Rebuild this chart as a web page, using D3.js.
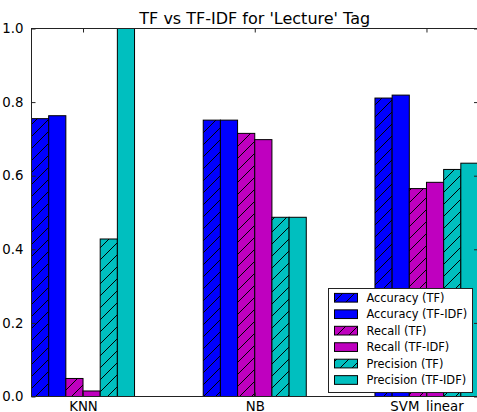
<!DOCTYPE html>
<html>
<head>
<meta charset="utf-8">
<script src="https://cdn.jsdelivr.net/npm/d3@7"></script>
<style>
  html, body { margin: 0; padding: 0; background: #fff; }
  svg { display: block; font-family: "DejaVu Sans", sans-serif; }
</style>
</head>
<body>
<svg id="chart" width="477" height="412"></svg>
<script>
const categories = ["KNN", "NB", "SVM_linear"];
const seriesNames = ["Accuracy (TF)", "Accuracy (TF-IDF)", "Recall (TF)", "Recall (TF-IDF)", "Precision (TF)", "Precision (TF-IDF)"];
const accuracyTF    = [0.755, 0.751, 0.811];
const accuracyTFIDF = [0.763, 0.751, 0.819];
const recallTF      = [0.049, 0.715, 0.565];
const recallTFIDF   = [0.015, 0.698, 0.582];
const precisionTF   = [0.428, 0.487, 0.617];
const precisionTFIDF= [1.0,   0.487, 0.634];
const yTicks = [0.0, 0.2, 0.4, 0.6, 0.8, 1.0];
const chartTitle = "TF vs TF-IDF for 'Lecture' Tag";

const seriesValues = [accuracyTF, accuracyTFIDF, recallTF, recallTFIDF, precisionTF, precisionTFIDF];
const seriesColors = ["#0000ff", "#0000ff", "#bf00bf", "#bf00bf", "#00bfbf", "#00bfbf"];
const seriesHatch = [true, false, true, false, true, false];

const svg = d3.select("#chart");
const pL = 31.5, pR = 478, pT = 28.5, pB = 396.5;
const barW = 0.1;

const x = d3.scaleLinear().domain([-0.3, 2.3]).range([pL, pR]);
const y = d3.scaleLinear().domain([0, 1]).range([pB, pT]);

const defs = svg.append("defs");
const pat = defs.append("pattern").attr("id", "hatch")
  .attr("patternUnits", "userSpaceOnUse").attr("width", 12).attr("height", 12);
pat.append("path").attr("d", "M0,12 L12,0 M-3,3 L3,-3 M9,15 L15,9")
  .attr("stroke", "#000").attr("stroke-width", 1).attr("fill", "none");
defs.append("clipPath").attr("id", "clip").append("rect")
  .attr("x", pL).attr("y", pT).attr("width", pR - pL).attr("height", pB - pT);

const bars = svg.append("g").attr("clip-path", "url(#clip)");
seriesValues.forEach((vals, j) => {
  vals.forEach((v, i) => {
    const x0 = x(i - 0.3 + j * barW), x1 = x(i - 0.3 + (j + 1) * barW);
    bars.append("rect").attr("x", x0).attr("y", y(v)).attr("width", x1 - x0).attr("height", y(0) - y(v))
      .attr("fill", seriesColors[j]);
    if (seriesHatch[j]) {
      bars.append("rect").attr("x", x0).attr("y", y(v)).attr("width", x1 - x0).attr("height", y(0) - y(v))
        .attr("fill", "url(#hatch)");
    }
    bars.append("rect").attr("x", x0).attr("y", y(v)).attr("width", x1 - x0).attr("height", y(0) - y(v))
      .attr("fill", "none").attr("stroke", "#000").attr("stroke-width", 1);
  });
});

// spines
svg.append("rect").attr("x", pL).attr("y", pT).attr("width", pR - pL).attr("height", pB - pT)
  .attr("fill", "none").attr("stroke", "#222").attr("stroke-width", 1);

// y axis ticks (inward, both sides)
const yAxisL = d3.axisLeft(y).tickValues(yTicks).tickFormat(d3.format(".1f")).tickSizeInner(-4).tickSizeOuter(0).tickPadding(8);
const gyl = svg.append("g").attr("transform", `translate(${pL},0)`).call(yAxisL);
gyl.select(".domain").remove();
gyl.selectAll("text").attr("font-size", "13.3px").attr("fill", "#000").attr("font-family", "DejaVu Sans");
gyl.selectAll("line").attr("stroke", "#222");

const yAxisR = d3.axisRight(y).tickValues(yTicks).tickFormat("").tickSizeInner(-4).tickSizeOuter(0);
const gyr = svg.append("g").attr("transform", `translate(${pR},0)`).call(yAxisR);
gyr.select(".domain").remove();
gyr.selectAll("line").attr("stroke", "#222");

// x axis
const xAxisB = d3.axisBottom(x).tickValues([0, 1, 2]).tickFormat(i => categories[i]).tickSizeInner(-4).tickSizeOuter(0).tickPadding(5);
const gxb = svg.append("g").attr("transform", `translate(0,${pB})`).call(xAxisB);
gxb.select(".domain").remove();
gxb.selectAll("text").attr("font-size", "13.3px").attr("fill", "#000").attr("font-family", "DejaVu Sans");
gxb.selectAll("line").attr("stroke", "#222");

const xAxisT = d3.axisTop(x).tickValues([0, 1, 2]).tickFormat("").tickSizeInner(-4).tickSizeOuter(0);
const gxt = svg.append("g").attr("transform", `translate(0,${pT})`).call(xAxisT);
gxt.select(".domain").remove();
gxt.selectAll("line").attr("stroke", "#222");

// title
svg.append("text").attr("x", (pL + pR) / 2).attr("y", 24).attr("text-anchor", "middle")
  .attr("font-size", "16px").attr("fill", "#000").text(chartTitle);

// legend
const lg = svg.append("g");
lg.append("rect").attr("x", 328.5).attr("y", 288.5).attr("width", 144).attr("height", 104)
  .attr("fill", "#fff").attr("stroke", "#222").attr("stroke-width", 1);
seriesNames.forEach((name, j) => {
  const cy = 297.7 + j * 16.45;
  lg.append("rect").attr("x", 334.5).attr("y", cy - 4.3).attr("width", 23).attr("height", 8.7).attr("fill", seriesColors[j]);
  if (seriesHatch[j]) lg.append("rect").attr("x", 334.5).attr("y", cy - 4.3).attr("width", 23).attr("height", 8.7).attr("fill", "url(#hatch)");
  lg.append("rect").attr("x", 334.5).attr("y", cy - 4.3).attr("width", 23).attr("height", 8.7)
    .attr("fill", "none").attr("stroke", "#000").attr("stroke-width", 1);
  lg.append("text").attr("x", 366.5).attr("y", cy).attr("dy", "0.36em")
    .attr("font-size", "11.4px").attr("fill", "#000").text(name);
});
</script>
</body>
</html>
